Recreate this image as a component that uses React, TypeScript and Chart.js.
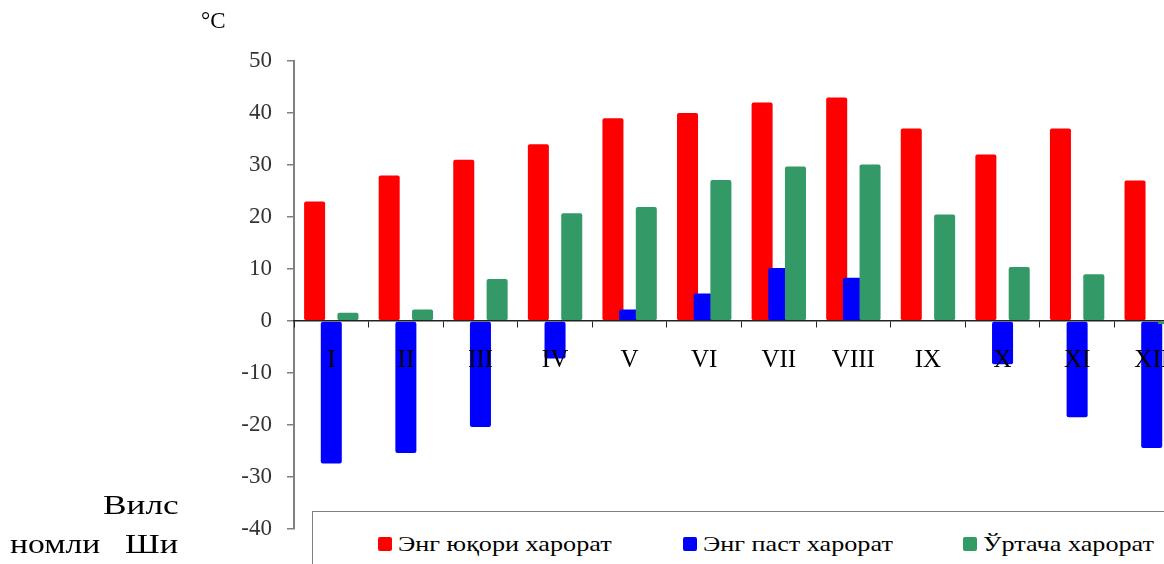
import React, { useEffect, useRef } from "react";
import { Chart, registerables } from "chart.js";

Chart.register(...registerables);

const months = ["I", "II", "III", "IV", "V", "VI", "VII", "VIII", "IX", "X", "XI", "XII"];
const maxTemp = [23, 28, 31, 34, 39, 40, 42, 43, 37, 32, 37, 27];
const minTemp = [-27.4, -25.4, -20.4, -7.2, 2.2, 5.3, 10.2, 8.3, 0, -8.3, -18.5, -24.4];
const avgTemp = [1.6, 2.2, 8.1, 20.7, 21.9, 27.1, 29.7, 30.1, 20.5, 10.4, 9.0, -0.6];
const seriesNames = ["Энг юқори харорат", "Энг паст харорат", "Ўртача харорат"];
const seriesColors = ["#FF0000", "#0000FF", "#339966"];
const yTicks = [50, 40, 30, 20, 10, 0, -10, -20, -30, -40];
const unitLabel = "°C";
const sideWords = ["Вилс", "номли", "Ши"];

const FONT = "'Liberation Serif', 'Times New Roman', serif";

const forwardOrder = {
  id: "forwardOrder",
  beforeDatasetsDraw(chart: any) {
    const metas = chart.getSortedVisibleDatasetMetas();
    for (const meta of metas) {
      meta.controller.draw();
    }
    return false;
  },
};

export default function App() {
  const canvasRef = useRef<HTMLCanvasElement | null>(null);

  useEffect(() => {
    const canvas = canvasRef.current;
    if (!canvas) return;
    const seriesData = [maxTemp, minTemp, avgTemp];
    const chart = new Chart(canvas, {
      type: "bar",
      data: {
        labels: months,
        datasets: seriesData.map((d, i) => ({
          label: seriesNames[i],
          data: d,
          backgroundColor: seriesColors[i],
          borderWidth: 0,
          borderRadius: 2,
          borderSkipped: false,
          categoryPercentage: 0.671,
          barPercentage: 1.26,
        })),
      },
      options: {
        responsive: false,
        animation: false,
        devicePixelRatio: 1,
        layout: { padding: { left: 0, top: 61, right: 11, bottom: 35 } },
        plugins: {
          legend: { display: false },
          tooltip: { enabled: false },
        },
        scales: {
          x: {
            type: "category",
            position: { y: 0 } as any,
            offset: true,
            grid: {
              offset: true,
              drawOnChartArea: false,
              drawTicks: true,
              tickLength: 6,
              color: "#222",
              lineWidth: 1,
              z: 1,
            },
            border: { display: true, color: "#222", width: 1.5, z: 1 },
            ticks: {
              color: "#000",
              padding: 18,
              maxRotation: 0,
              autoSkip: false,
              z: 2,
              font: { family: FONT, size: 25 },
            },
          },
          y: {
            min: -40,
            max: 50,
            afterFit: (scale: any) => {
              scale.width = 294;
            },
            afterBuildTicks: (scale: any) => {
              scale.ticks = yTicks.map((v) => ({ value: v }));
            },
            grid: {
              drawOnChartArea: false,
              drawTicks: true,
              tickLength: 7,
              color: "#808080",
              lineWidth: 1.5,
            },
            border: { display: true, color: "#808080", width: 2 },
            ticks: {
              color: "#333",
              padding: 15,
              font: { family: FONT, size: 23 },
            },
          },
        },
      },
      plugins: [forwardOrder],
    });
    return () => chart.destroy();
  }, []);

  const legendX = [378, 683, 963];

  const stretched = (text: string, extra: React.CSSProperties = {}) => (
    <span
      style={{
        display: "inline-block",
        transform: "scaleX(1.23)",
        transformOrigin: "left center",
        ...extra,
      }}
    >
      {text}
    </span>
  );

  return (
    <div
      style={{
        position: "fixed",
        left: 0,
        top: 0,
        width: 1164,
        height: 564,
        overflow: "hidden",
        background: "#fff",
        fontFamily: FONT,
      }}
    >
      <canvas
        ref={canvasRef}
        width={1200}
        height={564}
        style={{ position: "absolute", left: 0, top: 0, width: 1200, height: 564 }}
      />
      <div
        style={{
          position: "absolute",
          left: 201,
          top: 8,
          fontSize: 23,
          color: "#000",
          lineHeight: "26px",
        }}
      >
        {unitLabel}
      </div>
      <div
        style={{
          position: "absolute",
          left: 0,
          top: 480,
          width: 182,
          height: 84,
          overflow: "hidden",
          fontSize: 28,
          lineHeight: "40px",
          color: "#000",
          whiteSpace: "pre",
        }}
      >
        <div style={{ position: "absolute", left: 103, top: 5 }}>{stretched(sideWords[0], { transform: "scaleX(1.26)" })}</div>
        <div style={{ position: "absolute", left: 10, top: 44 }}>{stretched(sideWords[1], { transform: "scaleX(1.2)" })}</div>
        <div style={{ position: "absolute", left: 125, top: 44 }}>{stretched(sideWords[2])}</div>
      </div>
      <div
        style={{
          position: "absolute",
          left: 312,
          top: 511,
          width: 900,
          height: 80,
          border: "1px solid #808080",
          background: "#fff",
        }}
      >
        {seriesNames.map((name, i) => (
          <div
            key={name}
            style={{
              position: "absolute",
              left: legendX[i] - 313,
              top: 18,
              display: "flex",
              alignItems: "center",
              whiteSpace: "nowrap",
              fontSize: 22,
              lineHeight: "28px",
              color: "#000",
            }}
          >
            <span
              style={{
                display: "inline-block",
                width: 14,
                height: 14,
                borderRadius: 2,
                background: seriesColors[i],
                marginRight: 6,
              }}
            />
            {stretched(name, { transform: "scaleX(1.19)" })}
          </div>
        ))}
      </div>
    </div>
  );
}
